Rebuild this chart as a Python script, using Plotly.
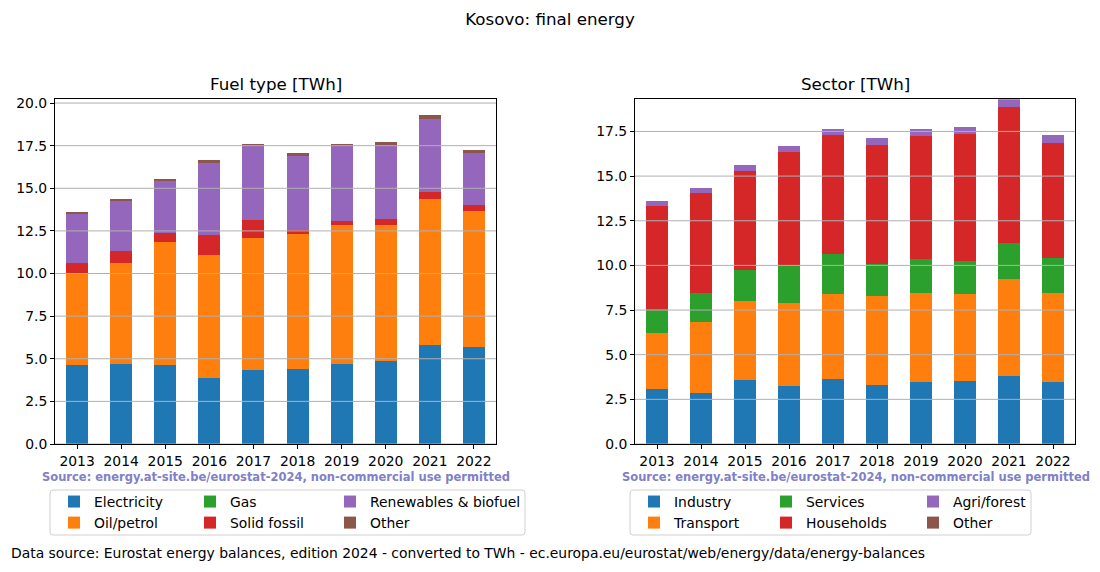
import plotly.graph_objects as go

W, H = 1100, 572

years = ["2013", "2014", "2015", "2016", "2017", "2018", "2019", "2020", "2021", "2022"]

# Fuel type [TWh]
fuel_electricity = [4.63, 4.69, 4.63, 3.87, 4.34, 4.40, 4.69, 4.87, 5.81, 5.69]
fuel_oil = [5.32, 5.93, 7.22, 7.22, 7.74, 7.92, 8.15, 7.97, 8.56, 7.98]
fuel_gas = [0, 0, 0, 0, 0, 0, 0, 0, 0, 0]
fuel_solid = [0.67, 0.72, 0.55, 1.17, 1.06, 0.23, 0.24, 0.36, 0.41, 0.35]
fuel_renew = [2.87, 2.91, 3.03, 4.22, 4.34, 4.34, 4.40, 4.28, 4.28, 3.05]
fuel_other = [0.08, 0.06, 0.11, 0.18, 0.12, 0.18, 0.12, 0.23, 0.24, 0.17]

# Sector [TWh]
sec_industry = [3.08, 2.85, 3.58, 3.25, 3.64, 3.30, 3.47, 3.53, 3.81, 3.47]
sec_transport = [3.13, 3.98, 4.42, 4.64, 4.75, 4.98, 4.98, 4.86, 5.42, 4.98]
sec_services = [1.36, 1.62, 1.74, 2.07, 2.24, 1.79, 1.90, 1.85, 2.02, 1.96]
sec_households = [5.75, 5.60, 5.54, 6.38, 6.66, 6.66, 6.89, 7.11, 7.61, 6.43]
sec_agri = [0.28, 0.28, 0.33, 0.34, 0.34, 0.39, 0.39, 0.39, 0.44, 0.45]
sec_other = [0, 0, 0, 0, 0, 0, 0, 0, 0, 0]

fuel_names = ["Electricity", "Oil/petrol", "Gas", "Solid fossil", "Renewables & biofuel", "Other"]
sector_names = ["Industry", "Transport", "Services", "Households", "Agri/forest", "Other"]
colors = ["#1f77b4", "#ff7f0e", "#2ca02c", "#d62728", "#9467bd", "#8c564b"]

left_ticks = [0, 2.5, 5, 7.5, 10, 12.5, 15, 17.5, 20]
right_ticks = [0, 2.5, 5, 7.5, 10, 12.5, 15, 17.5]
left_max = 20.22
right_max = 19.3

FONT = "DejaVu Sans"


def px(x):
    return x / W


def py(y):
    return 1 - y / H


fig = go.Figure()

fuel_series = [fuel_electricity, fuel_oil, fuel_gas, fuel_solid, fuel_renew, fuel_other]
sec_series = [sec_industry, sec_transport, sec_services, sec_households, sec_agri, sec_other]
# legend column assignment (matplotlib ncol=3, column-major)
left_leg = ["legend", "legend", "legend2", "legend2", "legend3", "legend3"]
right_leg = ["legend4", "legend4", "legend5", "legend5", "legend6", "legend6"]

for i, (name, vals) in enumerate(zip(fuel_names, fuel_series)):
    fig.add_trace(go.Bar(x=years, y=vals, name=name, marker=dict(color=colors[i], line=dict(width=0)),
                         xaxis="x", yaxis="y", legend=left_leg[i], legendrank=i + 1))
for i, (name, vals) in enumerate(zip(sector_names, sec_series)):
    fig.add_trace(go.Bar(x=years, y=vals, name=name, marker=dict(color=colors[i], line=dict(width=0)),
                         xaxis="x2", yaxis="y2", legend=right_leg[i], legendrank=i + 1))

axis_common = dict(showline=True, mirror=True, linecolor="black", linewidth=1,
                   ticks="outside", ticklen=4, tickcolor="black", tickwidth=1,
                   tickfont=dict(family=FONT, size=13.9, color="black"), zeroline=False,
                   automargin=False)

fig.update_layout(
    template="none",
    width=W, height=H,
    margin=dict(l=0, r=0, t=0, b=0, pad=0, autoexpand=False),
    paper_bgcolor="white", plot_bgcolor="white",
    barmode="stack", bargap=0.5,
    font=dict(family=FONT, color="black"),
    title=dict(text="Kosovo: final energy", x=0.5, xanchor="center", y=py(19), yanchor="middle",
               font=dict(family=FONT, size=16.7, color="black")),
    xaxis=dict(domain=[px(55), px(496)], anchor="y", type="category", range=[-0.5, 9.5],
               showgrid=False, **axis_common),
    yaxis=dict(domain=[py(444), py(99.3)], anchor="x", range=[0, left_max], tickvals=left_ticks,
               tickformat=".1f", showgrid=False, **axis_common),
    xaxis2=dict(domain=[px(635), px(1075)], anchor="y2", type="category", range=[-0.5, 9.5],
                showgrid=False, **axis_common),
    yaxis2=dict(domain=[py(444), py(99.3)], anchor="x2", range=[0, right_max], tickvals=right_ticks,
                tickformat=".1f", showgrid=False, **axis_common),
    showlegend=True,
)

leg_font = dict(family=FONT, size=13.9, color="black")
leg_common = dict(orientation="v", xanchor="left", yanchor="top", y=py(486), font=leg_font,
                  bgcolor="rgba(0,0,0,0)", borderwidth=0, traceorder="normal", itemsizing="constant")
fig.update_layout(
    legend=dict(x=px(54), **leg_common),
    legend2=dict(x=px(190), **leg_common),
    legend3=dict(x=px(330), **leg_common),
    legend4=dict(x=px(634), **leg_common),
    legend5=dict(x=px(766), **leg_common),
    legend6=dict(x=px(913), **leg_common),
)

shapes = []
# grid lines drawn over the bars (matplotlib style)
for t in left_ticks:
    shapes.append(dict(type="line", xref="x domain", yref="y", x0=0, x1=1, y0=t, y1=t,
                       line=dict(color="#b0b0b0", width=1), layer="above"))
for t in right_ticks:
    shapes.append(dict(type="line", xref="x2 domain", yref="y2", x0=0, x1=1, y0=t, y1=t,
                       line=dict(color="#b0b0b0", width=1), layer="above"))


def rounded_box(x0, y0, x1, y1, r=3):
    X0, X1 = px(x0), px(x1)
    Y0, Y1 = py(y0), py(y1)
    rx, ry = r / W, r / H
    path = (f"M{X0 + rx},{Y0} L{X1 - rx},{Y0} Q{X1},{Y0} {X1},{Y0 - ry} "
            f"L{X1},{Y1 + ry} Q{X1},{Y1} {X1 - rx},{Y1} L{X0 + rx},{Y1} Q{X0},{Y1} {X0},{Y1 + ry} "
            f"L{X0},{Y0 - ry} Q{X0},{Y0} {X0 + rx},{Y0} Z")
    return dict(type="path", xref="paper", yref="paper", path=path,
                line=dict(color="#d0d0d0", width=1), fillcolor="rgba(255,255,255,0.8)", layer="below")


shapes.append(rounded_box(50, 490, 525, 535))
shapes.append(rounded_box(630, 490, 1031, 535))
fig.update_layout(shapes=shapes)

src = "Source: energy.at-site.be/eurostat-2024, non-commercial use permitted"
annotations = [
    dict(text="Fuel type [TWh]", x=px(275.5), y=py(84.5), xref="paper", yref="paper",
         xanchor="center", yanchor="middle", showarrow=False, font=dict(family=FONT, size=16.7, color="black")),
    dict(text="Sector [TWh]", x=px(855), y=py(84.5), xref="paper", yref="paper",
         xanchor="center", yanchor="middle", showarrow=False, font=dict(family=FONT, size=16.7, color="black")),
    dict(text=f"<b>{src}</b>", x=px(276), y=py(477), xref="paper", yref="paper",
         xanchor="center", yanchor="middle", showarrow=False, font=dict(family=FONT, size=11.5, color="#8080c8")),
    dict(text=f"<b>{src}</b>", x=px(856), y=py(477), xref="paper", yref="paper",
         xanchor="center", yanchor="middle", showarrow=False, font=dict(family=FONT, size=11.5, color="#8080c8")),
    dict(text="Data source: Eurostat energy balances, edition 2024 - converted to TWh - ec.europa.eu/eurostat/web/energy/data/energy-balances",
         x=px(9), y=py(553), xref="paper", yref="paper", xanchor="left", yanchor="middle", showarrow=False,
         font=dict(family=FONT, size=13.9, color="black")),
]
fig.update_layout(annotations=annotations)

fig.write_html("out.html", config={"displayModeBar": False},
               post_script="document.body.style.margin='0';document.body.style.overflow='hidden';")
